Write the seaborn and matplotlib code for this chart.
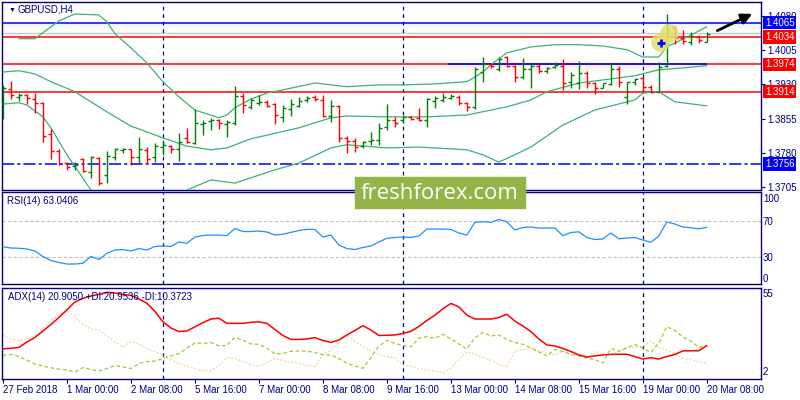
import numpy as np
import matplotlib.pyplot as plt
import seaborn as sns
from matplotlib.patches import Rectangle
from matplotlib.transforms import blended_transform_factory

# GBPUSD H4 bars (27 Feb 2018 .. 20 Mar 2018)
bar_open = [1.3887, 1.3920, 1.3903, 1.3907, 1.3898, 1.3890, 1.3822, 1.3785, 1.3758, 1.3752,
            1.3767, 1.3739, 1.3769, 1.3732, 1.3771, 1.3787, 1.3789, 1.3771, 1.3787, 1.3771,
            1.3793, 1.3795, 1.3789, 1.3813, 1.3802, 1.3844, 1.3850, 1.3852, 1.3844, 1.3846,
            1.3905, 1.3881, 1.3890, 1.3892, 1.3887, 1.3859, 1.3876, 1.3883, 1.3896, 1.3903,
            1.3896, 1.3861, 1.3883, 1.3813, 1.3806, 1.3795, 1.3806, 1.3809, 1.3837, 1.3852,
            1.3852, 1.3859, 1.3857, 1.3852, 1.3894, 1.3896, 1.3901, 1.3903, 1.3890, 1.3881,
            1.3957, 1.3975, 1.3964, 1.3990, 1.3971, 1.3946, 1.3964, 1.3971, 1.3960, 1.3968,
            1.3971, 1.3936, 1.3933, 1.3955, 1.3933, 1.3922, 1.3931, 1.3964, 1.3903, 1.3936,
            1.3944, 1.3925, 1.3914, 1.3971, 1.4054, 1.4032, 1.4023, 1.4034, 1.4023]
bar_high = [1.3929, 1.3938, 1.3911, 1.3909, 1.3911, 1.3892, 1.3833, 1.3789, 1.3760, 1.3760,
            1.3769, 1.3774, 1.3771, 1.3785, 1.3791, 1.3791, 1.3789, 1.3815, 1.3793, 1.3802,
            1.3809, 1.3798, 1.3824, 1.3835, 1.3876, 1.3852, 1.3857, 1.3854, 1.3852, 1.3927,
            1.3911, 1.3900, 1.3907, 1.3896, 1.3890, 1.3885, 1.3898, 1.3903, 1.3905, 1.3907,
            1.3907, 1.3896, 1.3885, 1.3817, 1.3813, 1.3806, 1.3826, 1.3846, 1.3887, 1.3859,
            1.3861, 1.3861, 1.3879, 1.3901, 1.3905, 1.3911, 1.3909, 1.3907, 1.3892, 1.3968,
            1.3990, 1.3977, 1.3990, 1.3992, 1.3973, 1.3988, 1.3975, 1.3975, 1.3968, 1.3979,
            1.3986, 1.3957, 1.3982, 1.3960, 1.3936, 1.3933, 1.3977, 1.3971, 1.3936, 1.3944,
            1.3949, 1.3929, 1.3979, 1.4084, 1.4058, 1.4049, 1.4045, 1.4038, 1.4045]
bar_low = [1.3855, 1.3898, 1.3894, 1.3887, 1.3868, 1.3804, 1.3767, 1.3754, 1.3743, 1.3743,
           1.3739, 1.3725, 1.3710, 1.3714, 1.3765, 1.3780, 1.3754, 1.3756, 1.3756, 1.3760,
           1.3776, 1.3780, 1.3763, 1.3802, 1.3800, 1.3820, 1.3830, 1.3833, 1.3815, 1.3841,
           1.3868, 1.3876, 1.3885, 1.3881, 1.3844, 1.3848, 1.3861, 1.3881, 1.3892, 1.3894,
           1.3859, 1.3848, 1.3804, 1.3780, 1.3782, 1.3791, 1.3798, 1.3798, 1.3830, 1.3837,
           1.3846, 1.3852, 1.3850, 1.3837, 1.3879, 1.3892, 1.3898, 1.3885, 1.3872, 1.3876,
           1.3936, 1.3966, 1.3960, 1.3968, 1.3936, 1.3942, 1.3922, 1.3955, 1.3955, 1.3966,
           1.3918, 1.3922, 1.3920, 1.3922, 1.3909, 1.3922, 1.3929, 1.3925, 1.3887, 1.3929,
           1.3914, 1.3911, 1.3914, 1.3968, 1.4019, 1.4019, 1.4017, 1.4021, 1.4023]
bar_close = [1.3922, 1.3907, 1.3907, 1.3901, 1.3890, 1.3817, 1.3785, 1.3756, 1.3749, 1.3754,
             1.3741, 1.3771, 1.3714, 1.3774, 1.3789, 1.3789, 1.3771, 1.3789, 1.3767, 1.3795,
             1.3798, 1.3789, 1.3804, 1.3804, 1.3846, 1.3846, 1.3852, 1.3846, 1.3848, 1.3905,
             1.3885, 1.3896, 1.3892, 1.3883, 1.3863, 1.3879, 1.3887, 1.3894, 1.3901, 1.3898,
             1.3861, 1.3883, 1.3813, 1.3806, 1.3793, 1.3804, 1.3809, 1.3835, 1.3852, 1.3846,
             1.3859, 1.3855, 1.3852, 1.3898, 1.3901, 1.3903, 1.3905, 1.3890, 1.3881, 1.3964,
             1.3975, 1.3971, 1.3986, 1.3971, 1.3946, 1.3964, 1.3971, 1.3960, 1.3966, 1.3973,
             1.3933, 1.3951, 1.3955, 1.3933, 1.3922, 1.3933, 1.3964, 1.3936, 1.3936, 1.3942,
             1.3925, 1.3914, 1.3968, 1.4049, 1.4032, 1.4025, 1.4036, 1.4027, 1.4041]

# Bollinger bands (bar index, price)
upper_idx = [2, 4, 7, 9, 12, 13, 14, 16, 18, 20, 22, 24, 27, 28, 29, 31, 33, 35, 39, 43,
             47, 50, 54, 58, 59, 60, 61, 63, 66, 69, 72, 75, 78, 80, 82, 83, 86, 88]
upper_val = [1.4030, 1.4030, 1.4069, 1.4084, 1.4082, 1.4067, 1.4041, 1.4010, 1.3977, 1.3936,
             1.3903, 1.3874, 1.3857, 1.3863, 1.3879, 1.3898, 1.3911, 1.3918, 1.3933, 1.3925,
             1.3929, 1.3929, 1.3931, 1.3936, 1.3946, 1.3957, 1.3973, 1.3999, 1.4012, 1.4017,
             1.4017, 1.4014, 1.4006, 1.3990, 1.3990, 1.4012, 1.4038, 1.4056]
middle_idx = [0, 2, 4, 6, 9, 11, 13, 16, 20, 23, 26, 28, 31, 37, 41, 43, 48, 53, 58, 63,
              66, 68, 72, 76, 79, 82, 85, 88]
middle_val = [1.3957, 1.3960, 1.3953, 1.3936, 1.3914, 1.3892, 1.3870, 1.3839, 1.3813, 1.3795,
              1.3787, 1.3791, 1.3811, 1.3835, 1.3857, 1.3861, 1.3859, 1.3859, 1.3863, 1.3881,
              1.3896, 1.3914, 1.3933, 1.3942, 1.3949, 1.3962, 1.3966, 1.3971]
lower_idx = [0, 2, 3, 5, 6, 8, 10, 11, 13, 17, 21, 23, 26, 29, 34, 37, 41, 43, 48, 52,
             58, 60, 62, 64, 66, 70, 74, 79, 80, 82, 84, 88]
lower_val = [1.3887, 1.3890, 1.3885, 1.3859, 1.3835, 1.3776, 1.3725, 1.3699, 1.3677, 1.3666,
             1.3686, 1.3699, 1.3721, 1.3714, 1.3743, 1.3758, 1.3791, 1.3798, 1.3791, 1.3793,
             1.3787, 1.3776, 1.3760, 1.3776, 1.3793, 1.3841, 1.3874, 1.3896, 1.3911, 1.3914,
             1.3892, 1.3883]

rsi = [41.4, 40.0, 39.7, 38.9, 36.7, 30.6, 26.1, 23.9, 22.2, 22.2,
       23.0, 30.6, 27.2, 34.1, 37.8, 38.3, 36.7, 39.4, 37.8, 41.7,
       42.2, 41.7, 46.7, 45.2, 52.2, 53.9, 54.4, 54.4, 53.7, 61.7,
       58.3, 58.3, 58.9, 57.8, 54.4, 55.3, 57.4, 59.4, 60.8, 60.6,
       52.2, 54.4, 43.3, 39.4, 38.3, 40.6, 42.2, 46.7, 50.8, 51.7,
       52.2, 51.7, 53.3, 61.1, 61.1, 61.1, 60.6, 56.7, 54.4, 68.6,
       69.2, 68.6, 71.7, 69.2, 60.0, 62.8, 63.3, 62.2, 62.2, 62.2,
       53.7, 57.2, 58.0, 51.7, 49.4, 50.0, 56.7, 50.2, 51.1, 51.7,
       48.9, 46.3, 53.3, 68.9, 66.7, 63.3, 62.6, 61.3, 63.0]

adx = [18.9, 19.3, 19.8, 23.1, 25.8, 29.7, 33.6, 37.8, 42.4, 47.2,
       49.3, 50.8, 51.7, 53.0, 52.6, 51.7, 51.2, 49.0, 46.4, 41.5,
       35.3, 31.5, 29.4, 29.7, 32.2, 34.7, 36.9, 37.4, 34.3, 34.3,
       34.3, 34.9, 35.2, 34.3, 30.6, 27.0, 24.6, 24.6, 24.9, 25.7,
       24.0, 22.8, 24.3, 27.3, 30.0, 32.9, 30.3, 27.0, 27.1, 27.3,
       28.2, 29.5, 32.4, 36.0, 39.2, 43.0, 46.3, 44.2, 39.3, 36.9,
       36.9, 36.9, 37.8, 39.8, 35.7, 32.7, 29.4, 24.9, 21.3, 20.7,
       19.2, 17.4, 15.3, 14.0, 14.7, 15.3, 15.6, 15.7, 15.7, 14.3,
       12.8, 13.6, 12.8, 14.3, 15.6, 17.7, 17.8, 17.8, 20.9]
plus_di = [15.1, 15.6, 14.3, 12.2, 9.8, 8.6, 7.5, 6.8, 6.2, 5.0,
           7.6, 6.5, 5.6, 7.1, 8.9, 8.0, 7.1, 10.1, 11.3, 11.6,
           13.1, 14.7, 16.2, 19.3, 22.5, 22.2, 22.8, 20.7, 21.0, 25.8,
           24.3, 21.9, 21.7, 19.3, 15.9, 16.2, 17.4, 17.7, 17.5, 16.8,
           15.3, 15.3, 13.1, 10.3, 8.6, 7.2, 13.7, 20.7, 24.0, 22.2,
           21.0, 20.1, 25.5, 26.3, 25.2, 27.7, 24.9, 21.9, 18.9, 25.5,
           28.9, 26.7, 27.3, 24.6, 22.8, 21.7, 19.5, 17.1, 14.7, 18.6,
           17.4, 15.6, 14.7, 13.3, 12.5, 10.4, 19.2, 17.4, 19.5, 21.6,
           19.2, 16.8, 22.5, 32.3, 30.0, 26.1, 23.7, 19.8, 20.95]
minus_di = [27.0, 24.9, 24.0, 24.9, 26.7, 31.5, 35.7, 39.3, 41.8, 38.1,
            33.6, 30.9, 30.3, 26.7, 23.1, 20.1, 23.4, 21.9, 19.2, 17.1,
            15.3, 12.2, 10.1, 8.6, 7.1, 6.0, 5.9, 8.9, 13.4, 13.1,
            11.3, 9.5, 8.3, 10.7, 13.1, 11.9, 10.7, 10.3, 8.9, 8.3,
            15.9, 17.7, 22.8, 27.3, 23.7, 20.4, 17.7, 15.6, 14.2, 13.6,
            8.9, 8.6, 7.1, 6.2, 5.6, 4.4, 7.4, 12.5, 17.2, 15.9,
            13.7, 12.2, 9.5, 8.2, 17.7, 18.3, 19.2, 18.0, 16.2, 15.3,
            17.2, 16.8, 15.0, 13.3, 17.4, 15.9, 15.3, 17.7, 19.8, 19.8,
            20.4, 23.7, 19.8, 18.0, 15.6, 13.3, 12.5, 11.0, 10.37]

level_prices = [1.4065, 1.4034, 1.3974, 1.3914, 1.3756]
level_colors = ['#0000ff', '#ff0000', '#ff0000', '#ff0000', '#0000ff']
price_ticks = ['1.3705', '1.3780', '1.3855', '1.3930', '1.4005', '1.4080']
date_labels = ['27 Feb 2018', '1 Mar 00:00', '2 Mar 08:00', '5 Mar 16:00', '7 Mar 00:00',
               '8 Mar 08:00', '9 Mar 16:00', '13 Mar 00:00', '14 Mar 08:00', '15 Mar 16:00',
               '19 Mar 00:00', '20 Mar 08:00']
separator_bars = [20, 50, 80]

sns.set_style("white")
plt.rcParams['font.family'] = ['Liberation Sans', 'DejaVu Sans']

navy = '#000080'
bar_x = np.arange(len(bar_open))

fig = plt.figure(figsize=(8, 4), dpi=100)
ax = fig.add_axes([0.003, 0.525, 0.948, 0.4708])
ax_rsi = fig.add_axes([0.003, 0.28925, 0.948, 0.23])
ax_adx = fig.add_axes([0.003, 0.05175, 0.948, 0.2275])

# --- price panel ---
for lo, hi, a in [(0, 1, 0.10), (1, 2, 0.08), (2, 3, 0.06), (3, 4, 0.04), (4, 5, 0.025)]:
    ax.axhspan(1.4065 - hi * 0.0004, 1.4065 - lo * 0.0004, color='grey', alpha=a, lw=0, zorder=1)
    ax.fill_between([55.6, 88], 1.3974 - hi * 0.0004, 1.3974 - lo * 0.0004, color='grey', alpha=a, lw=0, zorder=1)
    ax.fill_between([55.6, 88], 1.3974 + lo * 0.0003, 1.3974 + hi * 0.0003, color='grey', alpha=a * 0.6, lw=0, zorder=1)
ax.axhline(1.4043, color='#c8c8c8', lw=1, zorder=1)

sns.lineplot(x=upper_idx, y=upper_val, ax=ax, color='#3cb371', linewidth=0.9, zorder=3)
sns.lineplot(x=middle_idx, y=middle_val, ax=ax, color='#3cb371', linewidth=0.9, zorder=3)
sns.lineplot(x=lower_idx, y=lower_val, ax=ax, color='#3cb371', linewidth=0.9, zorder=3)

for p, c in zip(level_prices, level_colors):
    ls = (0, (8, 2, 2, 2)) if p == 1.3756 else '-'
    ax.axhline(p, color=c, lw=1.1, ls=ls, zorder=2)
ax.hlines(1.3974, 55.6, 88, color='#0000ff', lw=1.1, zorder=2.5)

colors = ['#008000' if c >= o else '#ff0000' for o, c in zip(bar_open, bar_close)]
ax.vlines(bar_x, bar_low, bar_high, colors=colors, lw=1.0, zorder=4)
ax.hlines(bar_open, bar_x - 0.4, bar_x, colors=colors, lw=1.0, zorder=4)
ax.hlines(bar_close, bar_x, bar_x + 0.4, colors=colors, lw=1.0, zorder=4)

# highlight of the entry point
ax.scatter([82.1, 83.3], [1.4023, 1.4042], s=180, color='#e6df70', alpha=0.85, lw=0, zorder=5)
ax.plot([82.25], [1.4021], marker='+', color='#0000ff', ms=6, mew=2, zorder=6)
ax.annotate('', xy=(94.0, 1.4087), xytext=(89.0, 1.4045),
            arrowprops=dict(arrowstyle='-|>', color='black', lw=2, mutation_scale=16),
            annotation_clip=False, zorder=6)

ax.set_ylim(1.3699, 1.4111)
ax.set_yticks([float(t) for t in price_ticks])
ax.set_yticklabels(price_ticks)
ax.text(0.008, 0.956, '\u25bc', transform=ax.transAxes, color=navy, fontsize=5, va='center', ha='left')
ax.text(0.0204, 0.956, 'GBPUSD,H4', transform=ax.transAxes, color=navy, fontsize=7, va='center', ha='left')

trans = blended_transform_factory(ax.transAxes, ax.transData)
for p, c in zip(level_prices, level_colors):
    ax.text(1.0055, p, f'{p:.4f}', transform=trans, color='white', fontsize=7, va='center', ha='left',
            bbox=dict(boxstyle='square,pad=0.18', fc=c, ec='none'), clip_on=False, zorder=8)

# --- RSI panel ---
ax_rsi.axhline(70, color='#c0c0c0', lw=0.8, ls=(0, (3, 2)), zorder=1)
ax_rsi.axhline(30, color='#c0c0c0', lw=0.8, ls=(0, (3, 2)), zorder=1)
sns.lineplot(x=bar_x, y=rsi, ax=ax_rsi, color='#1e90ff', linewidth=0.9, zorder=3)
ax_rsi.set_ylim(-0.33, 101.9)
ax_rsi.set_yticks([0, 30, 70, 100])
ax_rsi.set_yticklabels(['0', '30', '70', '100'])
ax_rsi.text(0.006, 0.90, 'RSI(14) 63.0406', transform=ax_rsi.transAxes, color=navy, fontsize=7, va='center')

# --- ADX panel ---
sns.lineplot(x=bar_x, y=minus_di, ax=ax_adx, color='#f3d3a3', linewidth=0.9, linestyle=(0, (1.5, 1.5)), zorder=2)
sns.lineplot(x=bar_x, y=plus_di, ax=ax_adx, color='#9acd32', linewidth=0.9, linestyle=(0, (3, 2)), zorder=2)
sns.lineplot(x=bar_x, y=adx, ax=ax_adx, color='#ff0000', linewidth=1.1, zorder=3)
ax_adx.set_ylim(0.61, 55.4)
ax_adx.set_yticks([2, 55])
ax_adx.set_yticklabels(['2', '55'])
ax_adx.text(0.007, 0.905, 'ADX(14) 20.9050 +DI:20.9536 -DI:10.3723', transform=ax_adx.transAxes,
            color=navy, fontsize=7, va='center')
ax_adx.set_xticks(bar_x[::8])
ax_adx.set_xticklabels(date_labels)
for lab in ax_adx.get_xticklabels():
    lab.set_ha('left')
ax_adx.tick_params(axis='x', bottom=True, colors=navy, labelsize=7, length=3, pad=1, width=0.8)

for a in (ax, ax_rsi, ax_adx):
    a.set_xlim(-0.0625, 94.75)
    a.set_xlabel('')
    a.set_ylabel('')
    for s in a.spines.values():
        s.set_color(navy)
        s.set_linewidth(1.0)
    a.yaxis.tick_right()
    for b in separator_bars:
        a.axvline(b, color=navy, lw=0.9, ls=(0, (3, 3)), zorder=1)
ax.tick_params(axis='y', right=True, colors=navy, labelsize=7, length=3, pad=1.5, width=0.8)
for a in (ax_rsi, ax_adx):
    a.tick_params(axis='y', right=True, colors=navy, labelsize=7, length=0, pad=1.5)
for a in (ax, ax_rsi):
    a.set_xticks([])

# top / bottom labels sit inside the panel like the terminal does
for a in (ax_rsi, ax_adx):
    labs = a.get_yticklabels()
    labs[0].set_va('bottom')
    labs[-1].set_va('top')

# watermark
fig.add_artist(Rectangle((0.444, 0.48), 0.212, 0.0775, transform=fig.transFigure,
                         color='#93b548', zorder=10))
fig.text(0.55, 0.517, 'freshforex.com', color='white', fontsize=16, family='Open Sans',
         ha='center', va='center', zorder=11)

fig.savefig('out.png', dpi=100)
